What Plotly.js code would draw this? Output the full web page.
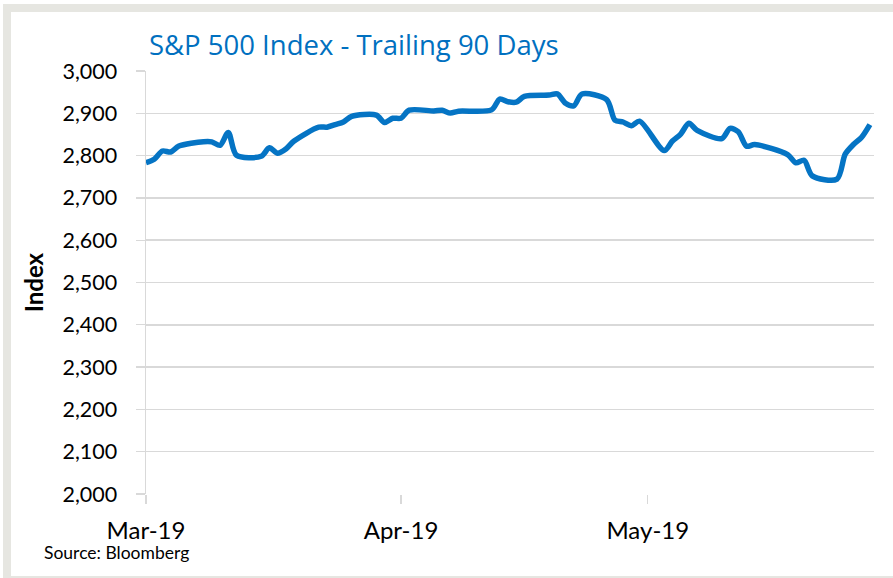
<!DOCTYPE html>
<html>
<head>
<meta charset="utf-8">
<script src="https://cdn.plot.ly/plotly-3.0.1.min.js"></script>
<style>
  html, body { margin: 0; padding: 0; background: #ffffff; }
  #wrap { position: relative; width: 893px; height: 578px; overflow: hidden; }
  #chart { position: absolute; left: 0; top: 0; width: 893px; height: 578px; }
  .frame { position: absolute; background: #e6e6e1; pointer-events: none; }
</style>
</head>
<body>
<div id="wrap">
  <div id="chart"></div>
  <div class="frame" style="left:3px; top:4px; width:890px; height:8px;"></div>
  <div class="frame" style="left:3px; top:4px; width:8px; height:574px;"></div>
  <div class="frame" style="left:3px; top:576px; width:890px; height:2px;"></div>
</div>
<script>
// S&P 500 daily closes, trailing 90 days
const dates = [
  '2019-03-11','2019-03-12','2019-03-13','2019-03-14','2019-03-15',
  '2019-03-18','2019-03-19','2019-03-20','2019-03-21','2019-03-22',
  '2019-03-25','2019-03-26','2019-03-27','2019-03-28','2019-03-29',
  '2019-04-01','2019-04-02','2019-04-03','2019-04-04','2019-04-05',
  '2019-04-08','2019-04-09','2019-04-10','2019-04-11','2019-04-12',
  '2019-04-15','2019-04-16','2019-04-17','2019-04-18','2019-04-22',
  '2019-04-23','2019-04-24','2019-04-25','2019-04-26','2019-04-29',
  '2019-04-30','2019-05-01','2019-05-02','2019-05-03','2019-05-06',
  '2019-05-07','2019-05-08','2019-05-09','2019-05-10','2019-05-13',
  '2019-05-14','2019-05-15','2019-05-16','2019-05-17','2019-05-20',
  '2019-05-21','2019-05-22','2019-05-23','2019-05-24','2019-05-28',
  '2019-05-29','2019-05-30','2019-05-31','2019-06-03','2019-06-04',
  '2019-06-05','2019-06-06','2019-06-07'
];
const closes = [
  2783.30, 2791.52, 2810.92, 2808.48, 2822.48,
  2832.94, 2832.57, 2824.23, 2854.88, 2800.71,
  2798.36, 2818.46, 2805.37, 2815.44, 2834.40,
  2867.19, 2867.24, 2873.40, 2879.39, 2892.74,
  2895.77, 2878.20, 2888.21, 2888.32, 2907.41,
  2905.58, 2907.06, 2900.45, 2905.03, 2907.97,
  2933.68, 2927.25, 2926.17, 2939.88, 2943.03,
  2945.83, 2923.73, 2917.52, 2945.64, 2932.47,
  2884.05, 2879.42, 2870.72, 2881.40, 2811.87,
  2834.41, 2850.96, 2876.32, 2859.53, 2840.23,
  2864.36, 2856.27, 2822.24, 2826.06, 2802.39,
  2783.02, 2788.86, 2752.06, 2744.45, 2803.27,
  2826.15, 2843.49, 2873.34
];
const xTickVals = ['2019-03-11', '2019-04-11', '2019-05-11'];
const xTickText = ['Mar-19', 'Apr-19', 'May-19'];
const yTickVals = [2000, 2100, 2200, 2300, 2400, 2500, 2600, 2700, 2800, 2900, 3000];
const yTickText = ['2,000', '2,100', '2,200', '2,300', '2,400', '2,500', '2,600', '2,700', '2,800', '2,900', '3,000'];
const xRange = ['2019-03-11', '2019-06-07 12:00'];
const yRange = [2000, 3000];

const FONT = 'Lato, "Open Sans", sans-serif';
const TITLE_FONT = '"Open Sans", Lato, sans-serif';
const GRID = '#d9d9d9';

const trace = {
  x: dates,
  y: closes,
  type: 'scatter',
  mode: 'lines',
  line: { color: '#0574C4', width: 5.5, shape: 'spline', smoothing: 0.8 },
  hoverinfo: 'x+y'
};

const layout = {
  width: 893,
  height: 578,
  margin: { l: 146, r: 19, t: 71, b: 84 },
  paper_bgcolor: '#ffffff',
  plot_bgcolor: '#ffffff',
  showlegend: false,
  font: { family: FONT, color: '#000000' },
  title: {
    text: 'S&P 500 Index - Trailing 90 Days',
    font: { family: TITLE_FONT, size: 27.5, color: '#0070C0' },
    xref: 'container', yref: 'container',
    x: 149 / 893, xanchor: 'left',
    y: 1 - 45 / 578, yanchor: 'middle'
  },
  xaxis: {
    type: 'date',
    range: xRange,
    tickmode: 'array',
    tickvals: xTickVals,
    ticktext: xTickText,
    showgrid: false,
    zeroline: false,
    showline: false,
    ticks: 'outside',
    ticklen: 9,
    tickwidth: 1.3,
    tickcolor: GRID,
    tickfont: { family: FONT, size: 24, color: '#000000' },
    ticklabelstandoff: 6,
    fixedrange: true
  },
  yaxis: {
    range: yRange,
    tickmode: 'array',
    tickvals: yTickVals,
    ticktext: yTickText,
    showgrid: true,
    gridcolor: GRID,
    gridwidth: 1.5,
    zeroline: false,
    showline: true,
    linecolor: GRID,
    linewidth: 1.5,
    ticks: 'outside',
    ticklen: 9,
    tickwidth: 1.3,
    tickcolor: GRID,
    tickfont: { family: FONT, size: 21.5, color: '#000000' },
    ticklabelstandoff: 14,
    title: {
      text: 'Index',
      font: { family: FONT, size: 24, color: '#000000', weight: 'bold' },
      standoff: 12
    },
    fixedrange: true
  },
  annotations: [{
    text: 'Source: Bloomberg',
    xref: 'paper', yref: 'paper',
    x: (42 - 146) / (893 - 146 - 19),
    y: -(552 - 494) / (494 - 71),
    xanchor: 'left', yanchor: 'middle',
    showarrow: false,
    font: { family: FONT, size: 17.5, color: '#000000' }
  }]
};

Plotly.newPlot('chart', [trace], layout, { displayModeBar: false, staticPlot: true });
</script>
</body>
</html>
